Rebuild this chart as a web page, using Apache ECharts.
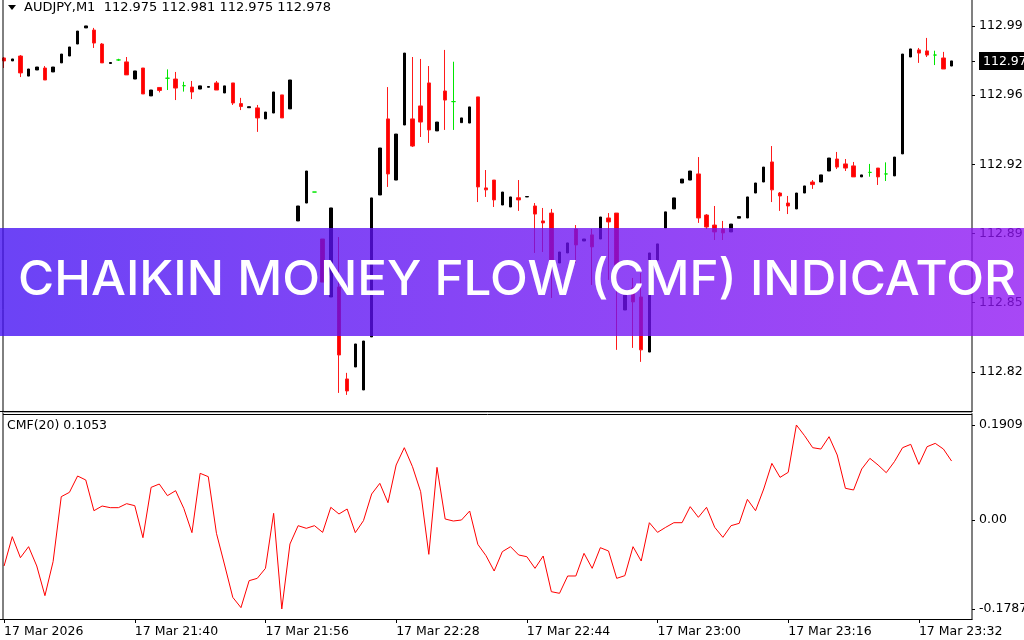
<!DOCTYPE html>
<html>
<head>
<meta charset="utf-8">
<script src="https://cdn.jsdelivr.net/npm/echarts@6.0.0/dist/echarts.min.js"></script>
<style>
html,body{margin:0;padding:0;background:#fff;}
#chart{width:1024px;height:640px;}
</style>
</head>
<body>
<div id="chart"></div>
<script>
// ---------- DATA ----------
const timeLabels = ['17 Mar 2026','17 Mar 21:40','17 Mar 21:56','17 Mar 22:28','17 Mar 22:44','17 Mar 23:00','17 Mar 23:16','17 Mar 23:32'];

const opens = [
112.9752,112.9737,112.9762,112.9660,112.9691,112.9701,112.9681,112.9727,112.9762,112.9823,
112.9905,112.9894,112.9823,112.9724,112.9742,112.9732,112.9645,112.9701,112.9559,112.9602,
112.9649,112.9645,112.9611,112.9604,112.9594,112.9603,112.9625,112.9574,112.9625,112.9520,
112.9499,112.9498,112.9442,112.9472,112.9564,112.9493,112.8923,112.9014,112.9070,112.8831,
112.8536,112.8587,112.8119,112.8180,112.8063,112.8333,112.9055,112.9442,112.9131,112.9411,
112.9442,112.9508,112.9625,112.9381,112.9584,112.9530,112.9423,112.9421,112.9554,112.9091,
112.9131,112.9004,112.8994,112.9041,112.9045,112.8999,112.8923,112.8963,112.8709,112.8760,
112.8882,112.8821,112.8852,112.8831,112.8938,112.8963,112.8470,112.8582,112.8536,112.8256,
112.8724,112.8887,112.8984,112.9116,112.9131,112.9162,112.8953,112.8902,112.8882,112.8867,
112.8937,112.8938,112.9065,112.9121,112.9223,112.9065,112.9014,112.8984,112.9065,112.9121,
112.9121,112.9177,112.9238,112.9213,112.9203,112.9147,112.9170,112.9192,112.9162,112.9152,
112.9264,112.9757,112.9793,112.9788,112.9767,112.9752,112.9711];
const highs = [
112.9757,112.9747,112.9767,112.9696,112.9706,112.9711,112.9706,112.9772,112.9808,112.9889,
112.9915,112.9905,112.9828,112.9729,112.9748,112.9757,112.9686,112.9701,112.9589,112.9604,
112.9694,112.9681,112.9631,112.9635,112.9610,112.9607,112.9635,112.9610,112.9625,112.9549,
112.9504,112.9513,112.9477,112.9579,112.9564,112.9640,112.8999,112.9177,112.9070,112.8831,
112.8989,112.8841,112.8150,112.8297,112.8312,112.9040,112.9294,112.9604,112.9365,112.9777,
112.9757,112.9747,112.9711,112.9426,112.9793,112.9733,112.9447,112.9503,112.9554,112.9182,
112.9131,112.9070,112.9045,112.9131,112.9047,112.9014,112.8989,112.8984,112.8765,112.8811,
112.8902,112.8831,112.8882,112.8943,112.8963,112.8963,112.8546,112.8633,112.8658,112.8760,
112.8806,112.8969,112.9040,112.9136,112.9177,112.9248,112.8958,112.8999,112.8923,112.8907,
112.8945,112.9045,112.9116,112.9197,112.9304,112.9070,112.9050,112.9065,112.9101,112.9131,
112.9157,112.9243,112.9274,112.9238,112.9223,112.9157,112.9213,112.9192,112.9221,112.9248,
112.9772,112.9798,112.9803,112.9854,112.9789,112.9783,112.9737];
const lows = [
112.9701,112.9737,112.9655,112.9660,112.9691,112.9640,112.9681,112.9727,112.9762,112.9823,
112.9905,112.9803,112.9727,112.9724,112.9737,112.9666,112.9645,112.9569,112.9559,112.9577,
112.9589,112.9538,112.9581,112.9543,112.9594,112.9603,112.9589,112.9574,112.9513,112.9487,
112.9499,112.9376,112.9442,112.9472,112.9447,112.9493,112.8923,112.9014,112.9070,112.8612,
112.8536,112.8048,112.8038,112.8180,112.8063,112.8333,112.9055,112.9096,112.9131,112.9411,
112.9299,112.9350,112.9320,112.9381,112.9386,112.9386,112.9423,112.9421,112.9019,112.9045,
112.8994,112.9004,112.8994,112.8974,112.9045,112.8760,112.8765,112.8531,112.8709,112.8760,
112.8709,112.8821,112.8597,112.8831,112.8623,112.8267,112.8470,112.8277,112.8206,112.8256,
112.8724,112.8887,112.8984,112.9116,112.9131,112.8913,112.8882,112.8826,112.8826,112.8867,
112.8937,112.8938,112.9065,112.9121,112.9019,112.8974,112.8958,112.8984,112.9065,112.9086,
112.9121,112.9177,112.9187,112.9177,112.9147,112.9147,112.9148,112.9106,112.9126,112.9152,
112.9264,112.9757,112.9727,112.9757,112.9716,112.9696,112.9711];
const closes = [
112.9737,112.9747,112.9676,112.9696,112.9706,112.9640,112.9706,112.9772,112.9808,112.9889,
112.9915,112.9828,112.9727,112.9729,112.9742,112.9666,112.9686,112.9569,112.9589,112.9587,
112.9649,112.9599,112.9611,112.9579,112.9610,112.9607,112.9589,112.9610,112.9523,112.9505,
112.9504,112.9447,112.9477,112.9579,112.9447,112.9640,112.8999,112.9177,112.9070,112.8612,
112.8989,112.8241,112.8058,112.8297,112.8312,112.9040,112.9294,112.9162,112.9365,112.9777,
112.9304,112.9426,112.9386,112.9426,112.9538,112.9530,112.9447,112.9503,112.9096,112.9081,
112.9030,112.9070,112.9045,112.9030,112.9047,112.8958,112.8913,112.8724,112.8765,112.8811,
112.8801,112.8831,112.8791,112.8943,112.8918,112.8699,112.8546,112.8511,112.8267,112.8760,
112.8806,112.8969,112.9040,112.9136,112.9177,112.8938,112.8892,112.8867,112.8862,112.8907,
112.8945,112.9045,112.9116,112.9197,112.9081,112.9050,112.8999,112.9065,112.9101,112.9108,
112.9157,112.9243,112.9197,112.9192,112.9147,112.9157,112.9170,112.9147,112.9162,112.9248,
112.9772,112.9798,112.9777,112.9767,112.9767,112.9696,112.9737];

const cmfValues = [
-0.0924,-0.0335,-0.0757,-0.0536,-0.0924,-0.1520,-0.0837, 0.0469, 0.0556, 0.0884,
 0.0804, 0.0187, 0.0281, 0.0248, 0.0248, 0.0328, 0.0288,-0.0355, 0.0656, 0.0723,
 0.0489, 0.0589, 0.0234,-0.0254, 0.0938, 0.0871,-0.0268,-0.0904,-0.1554,-0.1761,
-0.1219,-0.1172,-0.0971, 0.0134,-0.1787,-0.0482,-0.0114,-0.0167,-0.0114,-0.0248,
 0.0255, 0.0121, 0.0221,-0.0254,-0.0013, 0.0522, 0.0737, 0.0348, 0.1105, 0.1453,
 0.1071, 0.0569,-0.0690, 0.1058, 0.0020,-0.0020, 0.0000, 0.0181,-0.0489,-0.0717,
-0.1025,-0.0636,-0.0536,-0.0703,-0.0737,-0.0971,-0.0723,-0.1440,-0.1473,-0.1125,
-0.1125,-0.0670,-0.0971,-0.0556,-0.0623,-0.1172,-0.1118,-0.0536,-0.0824,-0.0054,
-0.0248,-0.0147,-0.0054,-0.0054, 0.0268, 0.0054, 0.0255,-0.0147,-0.0348,-0.0114,
-0.0067, 0.0415, 0.0187, 0.0623, 0.1138, 0.0857, 0.0958, 0.1909, 0.1694, 0.1453,
 0.1426, 0.1674, 0.1306, 0.0637, 0.0603, 0.1025, 0.1239, 0.1105, 0.0951, 0.1172,
 0.1453, 0.1520, 0.1118, 0.1473, 0.1540, 0.1426, 0.1185];

const priceTicks = [112.8155,112.8507,112.8859,112.9211,112.9563,112.9915];
const cmfTicks = [-0.1787, 0, 0.1909];
const priceRange = [112.7956, 113.0047];
const cmfRange = [-0.1989, 0.2130];
const headerText = 'AUDJPY,M1  112.975 112.981 112.975 112.978';
const cmfTitle = 'CMF(20) 0.1053';
const bannerText = 'CHAIKIN MONEY FLOW (CMF) INDICATOR';

// ---------- BUILD ----------
const nSlots = opens.length + 2;
const cats = Array.from({length: nSlots}, (_, i) => String(i));
const EMPTY = ['-','-','-','-'];
const candles = opens.map((o, i) => [o, closes[i], lows[i], highs[i]]);
const upData = candles.map(c => c[1] > c[0] ? c : EMPTY);
const downData = candles.map(c => c[1] < c[0] ? c : EMPTY);
const dojiData = candles.map(c => c[1] === c[0] ? c : EMPTY);
const lastClose = closes[closes.length - 1];
const labelStep = 16;
const isLabelIdx = (i) => i % labelStep === 0 && (i / labelStep) < timeLabels.length;

const FONT = 'DejaVu Sans';
const AX_FS = 12.5;

// banner text width fit
const mctx = document.createElement('canvas').getContext('2d');
const bannerFont = '500 48px Inter';
mctx.font = bannerFont;
const bannerW = mctx.measureText(bannerText).width || 998;
const bannerScale = 998 / bannerW;

const chart = echarts.init(document.getElementById('chart'), null, {renderer: 'canvas'});
chart.setOption({
  animation: false,
  backgroundColor: '#ffffff',
  textStyle: {fontFamily: FONT, fontSize: AX_FS, color: '#000'},
  grid: [
    {left: 0, right: 52, top: 0, bottom: 229, containLabel: false, outerBoundsMode: 'none'},
    {left: 0, right: 52, top: 414, bottom: 21, containLabel: false, outerBoundsMode: 'none'}
  ],
  xAxis: [
    {type: 'category', gridIndex: 0, data: cats, boundaryGap: true,
     axisLine: {show: true, onZero: false, lineStyle: {color: '#000', width: 1}},
     axisTick: {show: false}, axisLabel: {show: false}, splitLine: {show: false}},
    {type: 'category', gridIndex: 1, data: cats, boundaryGap: true,
     axisLine: {show: true, onZero: false, lineStyle: {color: '#000', width: 1}},
     axisTick: {show: true, alignWithLabel: true, length: 4, lineStyle: {color: '#000'},
                interval: (i) => isLabelIdx(i)},
     axisLabel: {show: true, interval: (i) => isLabelIdx(i), align: 'left', margin: 6,
                 color: '#000', fontFamily: FONT, fontSize: AX_FS,
                 formatter: (v, i) => timeLabels[i / labelStep] || ''},
     splitLine: {show: false}}
  ],
  yAxis: [
    {type: 'value', gridIndex: 0, position: 'right', min: priceRange[0], max: priceRange[1],
     axisLine: {show: true, lineStyle: {color: '#808080', width: 2}},
     axisTick: {show: true, length: 3, lineStyle: {color: '#000'}, customValues: priceTicks.concat([lastClose])},
     axisLabel: {show: true, margin: 7, color: '#000', fontFamily: FONT, fontSize: AX_FS,
                 customValues: priceTicks.concat([lastClose]),
                 formatter: (v) => Math.abs(v - lastClose) < 1e-7 ? '{box|' + v.toFixed(2) + '}' : v.toFixed(2),
                 rich: {box: {backgroundColor: '#000', color: '#fff', fontFamily: FONT, fontSize: AX_FS,
                              padding: [3, 8, 2, 4]}}},
     splitLine: {show: false}},
    {type: 'value', gridIndex: 1, position: 'right', min: cmfRange[0], max: cmfRange[1],
     axisLine: {show: true, lineStyle: {color: '#808080', width: 2}},
     axisTick: {show: true, length: 3, lineStyle: {color: '#000'}, customValues: cmfTicks},
     axisLabel: {show: true, margin: 7, color: '#000', fontFamily: FONT, fontSize: AX_FS,
                 customValues: cmfTicks,
                 formatter: (v) => v === 0 ? '0.00' : v.toFixed(4)},
     splitLine: {show: false}}
  ],
  series: [
    {type: 'candlestick', name: 'up', xAxisIndex: 0, yAxisIndex: 0, barWidth: 3, data: upData,
     itemStyle: {color: '#000', color0: '#000', borderColor: '#000', borderColor0: '#000', borderWidth: 1}},
    {type: 'candlestick', name: 'down', xAxisIndex: 0, yAxisIndex: 0, barWidth: 4, data: downData,
     itemStyle: {color: '#ff0000', color0: '#ff0000', borderColor: '#ff1a1a', borderColor0: '#ff1a1a', borderWidth: 1}},
    {type: 'candlestick', name: 'doji', xAxisIndex: 0, yAxisIndex: 0, barWidth: 4, data: dojiData,
     itemStyle: {color: '#00e600', color0: '#00e600', borderColor: '#00e600', borderColor0: '#00e600',
                 borderColorDoji: '#00e600', borderWidth: 1}},
    {type: 'line', name: 'CMF', xAxisIndex: 1, yAxisIndex: 1, data: cmfValues, showSymbol: false,
     symbol: 'none', lineStyle: {color: '#ff0000', width: 1}, silent: true}
  ],
  graphic: [
    {type: 'line', shape: {x1: 3, y1: 0, x2: 3, y2: 619}, style: {stroke: '#000', lineWidth: 1}, z: 10},
    {type: 'line', shape: {x1: 3, y1: 412.5, x2: 972, y2: 412.5}, style: {stroke: '#b0b0b0', lineWidth: 1}, z: 10},
    {type: 'line', shape: {x1: 3, y1: 414.5, x2: 972, y2: 414.5}, style: {stroke: '#000', lineWidth: 1}, z: 10},
    {type: 'polygon', shape: {points: [[8, 5], [16, 5], [12, 10]]}, style: {fill: '#000'}, z: 10},
    {type: 'text', x: 24, y: 8, style: {text: headerText, fill: '#000', font: '13px "DejaVu Sans"',
      verticalAlign: 'middle', align: 'left'}, z: 10},
    {type: 'text', x: 7, y: 426, style: {text: cmfTitle, fill: '#000', font: '12.5px "DejaVu Sans"',
      verticalAlign: 'middle', align: 'left'}, z: 10},
    {type: 'rect', shape: {x: 0, y: 228, width: 1024, height: 108}, z: 100,
     style: {fill: new echarts.graphic.LinearGradient(0, 0, 1, 0, [
        {offset: 0, color: 'rgba(66,14,243,0.78)'},
        {offset: 1, color: 'rgba(143,20,243,0.78)'}])}},
    {type: 'text', x: 18, y: 281, scaleX: bannerScale, z: 101,
     style: {text: bannerText, fill: '#ffffff', font: bannerFont, verticalAlign: 'middle', align: 'left'}}
  ]
});
</script>
</body>
</html>
